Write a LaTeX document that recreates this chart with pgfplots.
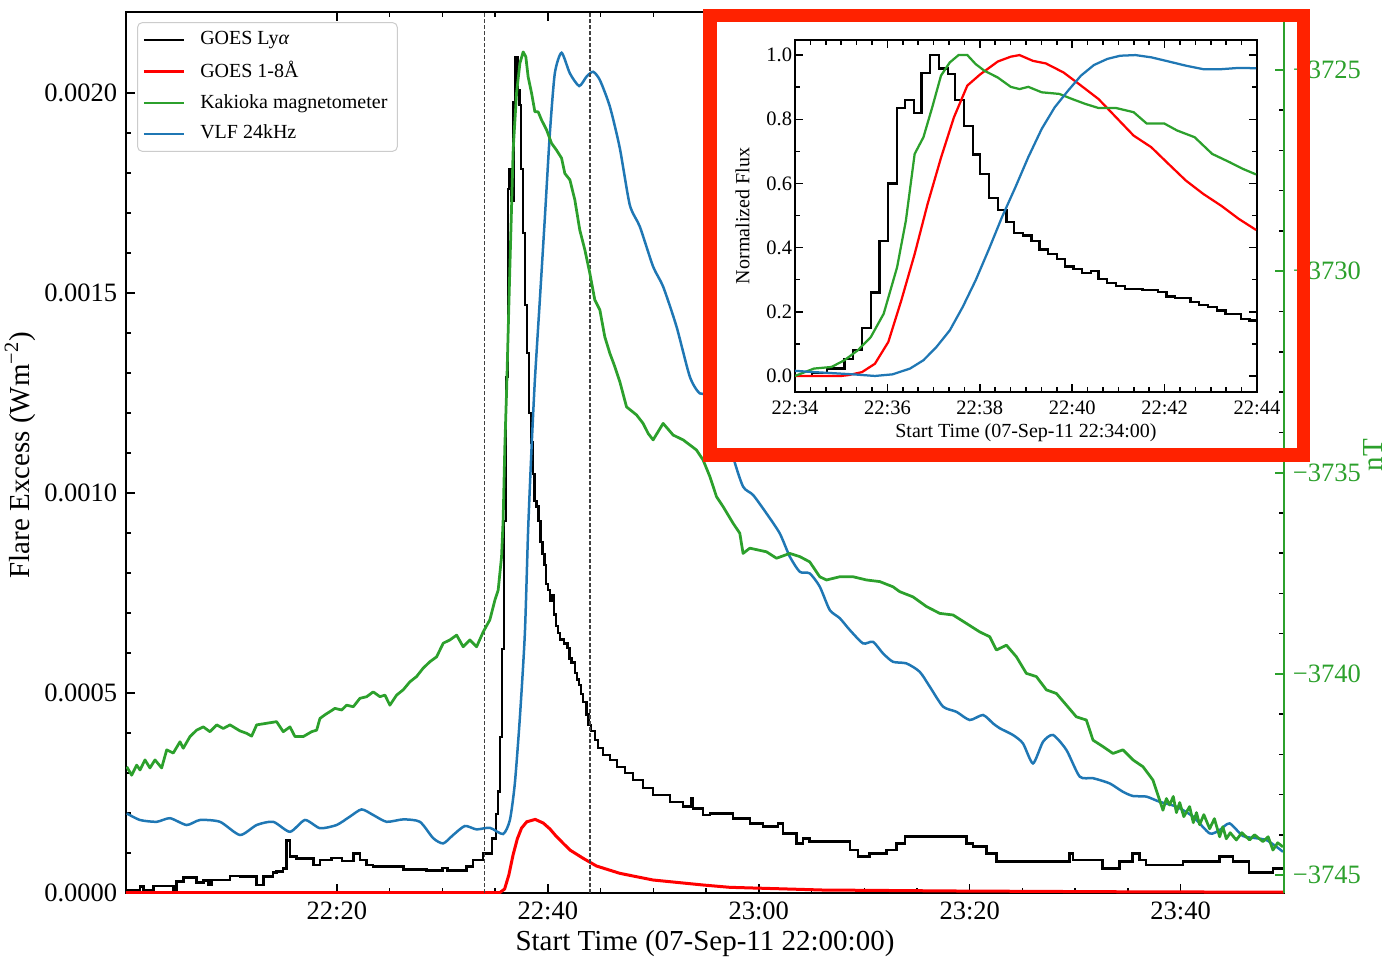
\documentclass[border=0pt]{standalone}
\usepackage{fontspec}
\setmainfont{Liberation Serif}
\usepackage{pgfplots}
\pgfplotsset{compat=1.18}
\definecolor{tabblue}{RGB}{31,119,180}
\definecolor{tabgreen}{RGB}{44,160,44}
\definecolor{framered}{RGB}{255,34,0}
\definecolor{goesred}{RGB}{255,0,0}
\begin{document}
\begin{tikzpicture}
\useasboundingbox (-50.4pt,-26.4pt) rectangle (504.4pt,357.2pt);
% ---------------- main axis (left) ----------------
\begin{axis}[
  at={(0pt,0pt)}, anchor=south west,
  scale only axis, width=463.2pt, height=352.4pt,
  xmin=0, xmax=109.8, ymin=0, ymax=2.2025e-3,
  xtick={20,40,60,80,100}, xticklabels={22:20,22:40,23:00,23:20,23:40},
  minor x tick num=3,
  ytick={0,0.5e-3,1e-3,1.5e-3,2e-3}, yticklabels={0.0000,0.0005,0.0010,0.0015,0.0020},
  minor y tick num=4,
  scaled y ticks=false,
  xtick pos=both, ytick pos=left,
  tick align=inside,
  major tick length=3.6pt, minor tick length=2.2pt,
  every tick/.style={black, line width=0.6pt},
  axis line style={line width=0.8pt},
  tick label style={font=\fontsize{10.6}{12}\selectfont},
  xlabel={Start Time (07-Sep-11 22:00:00)},
  ylabel={Flare Excess (Wm\textsuperscript{−2})},
  xlabel style={font=\fontsize{11.6}{13}\selectfont, at={(axis description cs:0.5,-0.0568)}, anchor=center},
  ylabel style={font=\fontsize{11.6}{13}\selectfont, at={(axis description cs:-0.0915,0.497)}, anchor=center},
  legend style={font=\fontsize{8}{9.5}\selectfont, draw=black!20, rounded corners=2pt,
    at={(axis description cs:0.0095,0.9886)}, anchor=north west,
    inner xsep=2pt, inner ysep=1.5pt, row sep=1.2pt},
  legend cell align=left,
  legend image code/.code={\draw[#1, line width=1pt] (0pt,0pt) -- (16pt,0pt); \path (20.4pt,0pt);},
]
\addlegendimage{black}
\addlegendentry{GOES Ly\textit{α}}
\addlegendimage{goesred}
\addlegendentry{GOES 1-8Å}
\addlegendimage{tabgreen}
\addlegendentry{Kakioka magnetometer}
\addlegendimage{tabblue}
\addlegendentry{VLF 24kHz}
% GOES Lya (step)
\addplot[forget plot, black, line width=1pt, const plot] coordinates {
(0,0.0075e-3)(1.33,0.0158e-3)(1.64,0.0075e-3)(2.59,0.0175e-3)(4.49,0.0075e-3)(4.8,0.0283e-3)(5.43,0.039e-3)(6.7,0.0258e-3)(7.33,0.031e-3)(7.8,0.02e-3)(8.12,0.0325e-3)(9.86,0.0423e-3)(10.8,0.0408e-3)(12.39,0.02e-3)(13.02,0.0408e-3)(13.96,0.0507e-3)(14.28,0.0533e-3)(14.91,0.0617e-3)(15.23,0.131e-3)(15.55,0.0908e-3)(16.18,0.0867e-3)(17.76,0.07e-3)(18.39,0.0825e-3)(19.5,0.087e-3)(20.5,0.08e-3)(21.55,0.0992e-3)(22.18,0.0825e-3)(22.81,0.07e-3)(23.44,0.0658e-3)(26.29,0.059e-3)(28.5,0.0558e-3)(30.0,0.0625e-3)(30.5,0.0558e-3)(32.3,0.0658e-3)(32.9,0.0825e-3)(33.87,0.0992e-3)(34.69,0.136e-3)(35.07,0.198e-3)(35.26,0.254e-3)(35.45,0.39e-3)(35.64,0.61e-3)(35.83,0.93e-3)(36.02,1.29e-3)(36.21,1.76e-3)(36.38,1.81e-3)(36.57,1.73e-3)(36.74,1.976e-3)(36.93,2.09e-3)(37.12,2.006e-3)(37.31,1.97e-3)(37.47,1.81e-3)(37.66,1.65e-3)(37.85,1.47e-3)(38.01,1.35e-3)(38.2,1.2e-3)(38.39,1.126e-3)(38.58,1.048e-3)(38.74,0.98e-3)(38.93,0.966e-3)(39.12,0.93e-3)(39.29,0.878e-3)(39.48,0.848e-3)(39.67,0.82e-3)(39.84,0.772e-3)(40.03,0.758e-3)(40.22,0.73e-3)(40.41,0.744e-3)(40.57,0.696e-3)(40.76,0.668e-3)(40.95,0.65e-3)(41.14,0.634e-3)(41.52,0.624e-3)(41.85,0.612e-3)(42.04,0.586e-3)(42.23,0.576e-3)(42.56,0.55e-3)(42.75,0.534e-3)(42.94,0.52e-3)(43.13,0.498e-3)(43.32,0.478e-3)(43.65,0.446e-3)(43.84,0.42e-3)(44.1,0.405e-3)(44.45,0.3825e-3)(44.74,0.3625e-3)(45.21,0.345e-3)(45.88,0.3325e-3)(46.54,0.315e-3)(47.3,0.3e-3)(48.06,0.2825e-3)(49.0,0.2625e-3)(49.95,0.245e-3)(51.56,0.228e-3)(52.83,0.216e-3)(53.62,0.237e-3)(53.77,0.2117e-3)(54.72,0.195e-3)(55.36,0.199e-3)(57.57,0.1867e-3)(59.15,0.1742e-3)(60.41,0.1658e-3)(61.83,0.1742e-3)(62.31,0.1492e-3)(63.57,0.124e-3)(64.2,0.1367e-3)(64.83,0.1283e-3)(68.63,0.1075e-3)(69.42,0.0908e-3)(70.52,0.0992e-3)(72.1,0.1075e-3)(73.05,0.124e-3)(73.84,0.1408e-3)(79.68,0.124e-3)(80.32,0.1158e-3)(81.58,0.0992e-3)(82.53,0.0783e-3)(89.48,0.0992e-3)(89.8,0.0825e-3)(92.6,0.0617e-3)(94.2,0.0783e-3)(95.45,0.0992e-3)(96.1,0.0825e-3)(96.7,0.07e-3)(100.2,0.0783e-3)(103.7,0.0908e-3)(104.96,0.0783e-3)(106.5,0.0507e-3)(108.75,0.0617e-3)(109.8,0.0617e-3)
};
% GOES 1-8A
\addplot[forget plot, goesred, line width=1.2pt] coordinates {
(0,0.001e-3)(35.45,0.001e-3)(35.9,0.01e-3)(36.3,0.045e-3)(36.7,0.095e-3)(37.1,0.135e-3)(37.5,0.162e-3)(38.0,0.178e-3)(38.8,0.184e-3)(39.56,0.175e-3)(40.2,0.16e-3)(40.82,0.141e-3)(41.5,0.123e-3)(42.09,0.1075e-3)(43.35,0.0867e-3)(44.61,0.0675e-3)(46.82,0.0492e-3)(49.97,0.0325e-3)(54.71,0.02e-3)(57.24,0.0142e-3)(66,0.0075e-3)(78.8,0.005e-3)(95,0.003e-3)(109.8,0.002e-3)
};
% VLF 24kHz
\addplot[forget plot, tabblue, line width=1pt, smooth, tension=0.4] coordinates {
(0.07,0.199e-3)(1.33,0.1825e-3)(2.91,0.178e-3)(4.17,0.187e-3)(5.75,0.17e-3)(7.01,0.1825e-3)(8.91,0.178e-3)(10.81,0.145e-3)(12.39,0.17e-3)(13.96,0.178e-3)(15.55,0.153e-3)(16.97,0.1825e-3)(18.39,0.162e-3)(19.97,0.17e-3)(21.23,0.191e-3)(22.34,0.209e-3)(23.44,0.195e-3)(24.71,0.178e-3)(26.28,0.184e-3)(27.87,0.178e-3)(29.13,0.137e-3)(30.08,0.124e-3)(31.02,0.145e-3)(32.13,0.1675e-3)(33.24,0.159e-3)(34.5,0.163e-3)(35.76,0.1475e-3)(36.4,0.1825e-3)(36.87,0.274e-3)(37.35,0.44e-3)(37.82,0.649e-3)(38.13,0.9075e-3)(38.46,1.116e-3)(38.77,1.2825e-3)(39.24,1.4825e-3)(39.72,1.69e-3)(40.19,1.899e-3)(40.66,2.049e-3)(41.3,2.1005e-3)(42.09,2.049e-3)(42.97,2.0175e-3)(43.67,2.041e-3)(44.29,2.053e-3)(44.93,2.0325e-3)(45.88,1.966e-3)(46.82,1.8625e-3)(47.77,1.72e-3)(48.72,1.666e-3)(49.98,1.566e-3)(50.93,1.516e-3)(52.2,1.416e-3)(53.46,1.291e-3)(54.41,1.249e-3)(55.67,1.249e-3)(56.62,1.199e-3)(57.56,1.091e-3)(58.51,1.016e-3)(59.46,0.995e-3)(60.73,0.949e-3)(61.99,0.899e-3)(62.94,0.841e-3)(63.89,0.803e-3)(64.83,0.799e-3)(65.78,0.766e-3)(66.73,0.7075e-3)(67.68,0.687e-3)(68.63,0.6575e-3)(69.89,0.624e-3)(70.83,0.628e-3)(71.78,0.599e-3)(72.73,0.578e-3)(74.0,0.574e-3)(75.26,0.553e-3)(76.21,0.516e-3)(77.47,0.466e-3)(78.74,0.453e-3)(80.0,0.4325e-3)(81.26,0.445e-3)(82.21,0.424e-3)(82.84,0.412e-3)(84.1,0.395e-3)(85.05,0.374e-3)(86.0,0.324e-3)(86.95,0.378e-3)(87.9,0.395e-3)(89.17,0.3575e-3)(90.43,0.291e-3)(91.69,0.287e-3)(93.27,0.274e-3)(94.53,0.253e-3)(95.48,0.2425e-3)(96.75,0.241e-3)(98.01,0.228e-3)(99.59,0.216e-3)(101.17,0.191e-3)(102.75,0.149e-3)(103.7,0.1575e-3)(104.64,0.174e-3)(105.91,0.1425e-3)(107.17,0.137e-3)(108.12,0.1325e-3)(109.07,0.116e-3)(109.7,0.103e-3)
};
\draw[black!75, line width=0.5pt, dash pattern=on 1.6pt off 0.8pt] (axis cs:34,0) -- (axis cs:34,2.2025e-3);
\draw[black!75, line width=0.5pt, dash pattern=on 1.6pt off 0.8pt] (axis cs:44,0) -- (axis cs:44,2.2025e-3);
\end{axis}
% ---------------- right axis (magnetometer) ----------------
\begin{axis}[
  at={(0pt,0pt)}, anchor=south west,
  scale only axis, width=463.2pt, height=352.4pt,
  xmin=0, xmax=109.8, ymin=-3745.447, ymax=-3723.559,
  axis x line=none, axis y line*=right,
  y axis line style={tabgreen, line width=0.8pt, -},
  ytick={-3745,-3740,-3735,-3730,-3725},
  yticklabels={−3745,−3740,−3735,−3730,−3725},
  minor y tick num=4,
  tick align=inside,
  major tick length=3.6pt, minor tick length=2.2pt,
  major tick style={tabgreen, line width=0.8pt},
  minor tick style={black, line width=0.6pt},
  yticklabel style={tabgreen, font=\fontsize{10.6}{12}\selectfont},
  ylabel={nT},
  ylabel style={tabgreen, font=\fontsize{11.6}{13}\selectfont, at={(axis description cs:1.0765,0.497)}, anchor=center},
]
\addplot[tabgreen, line width=1.1pt, line join=round] coordinates {
(0.07,-3742.31)(0.54,-3742.52)(1.01,-3742.27)(1.33,-3742.39)(1.8,-3742.14)(2.27,-3742.34)(2.75,-3742.14)(3.38,-3742.34)(3.86,-3741.89)(4.48,-3741.97)(5.12,-3741.69)(5.43,-3741.85)(6.07,-3741.56)(6.7,-3741.40)(7.33,-3741.32)(7.96,-3741.44)(8.6,-3741.27)(9.22,-3741.36)(9.86,-3741.27)(10.81,-3741.42)(11.44,-3741.48)(11.91,-3741.55)(12.39,-3741.27)(13.34,-3741.23)(14.28,-3741.19)(14.91,-3741.44)(15.55,-3741.32)(16.02,-3741.56)(16.81,-3741.56)(17.6,-3741.44)(18.08,-3741.40)(18.39,-3741.11)(18.86,-3741.02)(19.34,-3740.94)(19.81,-3740.86)(20.45,-3740.90)(20.92,-3740.78)(21.55,-3740.82)(22.18,-3740.61)(22.82,-3740.57)(23.44,-3740.45)(24.08,-3740.57)(24.55,-3740.53)(25.02,-3740.78)(25.66,-3740.53)(26.28,-3740.40)(26.92,-3740.20)(27.55,-3740.07)(28.18,-3739.86)(28.82,-3739.70)(29.45,-3739.58)(30.08,-3739.24)(30.71,-3739.16)(31.35,-3739.04)(31.97,-3739.33)(32.61,-3739.16)(33.24,-3739.33)(33.87,-3738.96)(34.5,-3738.66)(34.98,-3738.17)(35.29,-3737.92)(35.61,-3737.09)(35.76,-3736.18)(35.92,-3734.36)(36.09,-3732.95)(36.4,-3729.89)(36.71,-3726.99)(37.03,-3725.58)(37.35,-3724.83)(37.66,-3724.55)(37.91,-3724.67)(38.13,-3725.17)(38.46,-3725.58)(38.77,-3726.04)(39.08,-3726.04)(39.4,-3726.24)(39.88,-3726.49)(40.35,-3726.82)(40.82,-3726.99)(41.3,-3727.19)(41.61,-3727.57)(42.09,-3727.73)(42.56,-3728.23)(43.03,-3728.98)(43.51,-3729.47)(43.98,-3730.05)(44.45,-3730.71)(44.93,-3730.96)(45.4,-3731.63)(45.88,-3732.04)(46.35,-3732.37)(46.82,-3732.74)(47.46,-3733.37)(48.41,-3733.57)(49.03,-3733.78)(49.51,-3734.03)(49.98,-3734.19)(50.93,-3733.78)(51.88,-3734.07)(52.83,-3734.19)(54.09,-3734.44)(54.72,-3734.69)(55.36,-3735.10)(55.99,-3735.60)(56.62,-3735.85)(57.56,-3736.26)(58.2,-3736.51)(58.51,-3737.01)(59.15,-3736.88)(60.73,-3736.97)(61.68,-3737.13)(62.94,-3737.01)(63.89,-3737.09)(64.83,-3737.22)(65.78,-3737.59)(66.42,-3737.67)(67.68,-3737.59)(68.94,-3737.59)(70.21,-3737.67)(71.47,-3737.71)(72.73,-3737.84)(73.36,-3737.96)(74.62,-3738.09)(75.9,-3738.33)(77.16,-3738.50)(78.42,-3738.54)(79.69,-3738.75)(80.95,-3738.96)(81.9,-3739.08)(82.53,-3739.41)(83.48,-3739.29)(84.43,-3739.58)(85.37,-3739.99)(86.32,-3740.07)(87.27,-3740.40)(88.22,-3740.49)(89.17,-3740.78)(90.11,-3741.07)(91.06,-3741.15)(91.69,-3741.65)(92.64,-3741.81)(93.58,-3741.98)(94.53,-3741.89)(95.48,-3742.14)(96.43,-3742.31)(97.37,-3742.64)(98.01,-3743.14)(98.32,-3743.39)(98.65,-3743.1)(98.96,-3743.26)(99.3,-3743.05)(99.6,-3743.45)(99.91,-3743.2)(100.3,-3743.55)(100.85,-3743.3)(101.2,-3743.7)(101.5,-3743.45)(101.8,-3743.75)(102.2,-3743.5)(102.75,-3743.85)(103.2,-3743.6)(103.7,-3744.05)(104.0,-3743.8)(104.33,-3744.1)(104.7,-3743.95)(105.28,-3744.13)(105.8,-3743.95)(106.54,-3744.13)(107.0,-3744.0)(107.8,-3744.17)(108.3,-3744.05)(108.75,-3744.38)(109.2,-3744.2)(109.7,-3744.3)
};
\end{axis}
% ---------------- inset frame ----------------
\fill[white] (233.6pt,175.2pt) rectangle (459.4pt,351pt);
\draw[framered, line width=5.4pt] (233.6pt,175.2pt) rectangle (471pt,351pt);
% ---------------- inset axis ----------------
\begin{axis}[
  at={(267.6pt,200.4pt)}, anchor=south west,
  scale only axis, width=184.8pt, height=140.8pt,
  xmin=34, xmax=44, ymin=-0.05, ymax=1.047,
  xtick={34,36,38,40,42,44}, xticklabels={22:34,22:36,22:38,22:40,22:42,22:44},
  minor x tick num=5,
  ytick={0,0.2,0.4,0.6,0.8,1.0}, yticklabels={0.0,0.2,0.4,0.6,0.8,1.0},
  minor y tick num=1,
  xtick pos=both, ytick pos=both, tick align=inside,
  major tick length=3.3pt, minor tick length=2pt,
  every tick/.style={black, line width=0.6pt},
  axis line style={line width=0.8pt},
  axis background/.style={fill=white},
  tick label style={font=\fontsize{8.2}{9}\selectfont},
  yticklabel style={inner xsep=1pt},
  xlabel={Start Time (07-Sep-11 22:34:00)},
  ylabel={Normalized Flux},
  xlabel style={font=\fontsize{8}{9}\selectfont, at={(axis description cs:0.5,-0.1165)}, anchor=center},
  ylabel style={font=\fontsize{8}{9}\selectfont, at={(axis description cs:-0.1136,0.5)}, anchor=center},
]
\addplot[black, line width=0.9pt, const plot] coordinates {
(34,0)(34.36,0.01)(34.69,0.023)(35.07,0.054)(35.26,0.082)(35.45,0.15)(35.64,0.26)(35.83,0.42)(36.02,0.60)(36.21,0.835)(36.38,0.86)(36.57,0.82)(36.74,0.943)(36.93,1.0)(37.12,0.958)(37.31,0.94)(37.47,0.86)(37.66,0.78)(37.85,0.69)(38.01,0.63)(38.2,0.555)(38.39,0.518)(38.58,0.479)(38.74,0.445)(38.93,0.438)(39.12,0.42)(39.29,0.394)(39.48,0.379)(39.67,0.365)(39.84,0.341)(40.03,0.334)(40.22,0.32)(40.41,0.327)(40.57,0.303)(40.76,0.289)(40.95,0.28)(41.14,0.272)(41.52,0.267)(41.85,0.261)(42.04,0.248)(42.23,0.243)(42.56,0.23)(42.75,0.222)(42.94,0.215)(43.13,0.204)(43.32,0.194)(43.65,0.178)(43.84,0.173)(44,0.173)
};
\addplot[goesred, line width=0.9pt] coordinates {
(34,0)(35.0,0)(35.17,0.003)(35.45,0.012)(35.73,0.038)(36.02,0.106)(36.3,0.235)(36.59,0.38)(36.87,0.536)(37.16,0.68)(37.44,0.806)(37.73,0.905)(38.01,0.94)(38.39,0.98)(38.67,0.995)(38.86,1.0)(39.15,0.982)(39.43,0.974)(39.81,0.946)(40.19,0.905)(40.57,0.863)(40.95,0.806)(41.33,0.749)(41.71,0.713)(42.09,0.66)(42.46,0.609)(42.84,0.567)(43.22,0.531)(43.6,0.49)(43.98,0.455)
};
\addplot[tabgreen, line width=0.9pt] coordinates {
(34,0)(34.41,0.023)(34.79,0.028)(35.07,0.049)(35.36,0.08)(35.64,0.121)(35.92,0.194)(36.21,0.339)(36.4,0.484)(36.59,0.692)(36.78,0.744)(36.97,0.837)(37.16,0.936)(37.35,0.977)(37.54,1.0)(37.73,1.0)(37.91,0.972)(38.1,0.951)(38.39,0.93)(38.67,0.901)(38.86,0.894)(39.05,0.901)(39.34,0.884)(39.72,0.879)(40.0,0.863)(40.28,0.848)(40.57,0.835)(40.95,0.835)(41.33,0.822)(41.61,0.787)(41.99,0.787)(42.27,0.765)(42.65,0.744)(43.03,0.692)(43.41,0.666)(43.7,0.645)(43.98,0.628)
};
\addplot[tabblue, line width=0.9pt] coordinates {
(34,0.016)(34.41,0.012)(34.79,0.009)(35.26,0.005)(35.73,0.0)(36.11,0.005)(36.49,0.023)(36.78,0.049)(37.06,0.09)(37.35,0.142)(37.63,0.215)(37.91,0.298)(38.2,0.396)(38.48,0.495)(38.77,0.588)(39.05,0.682)(39.34,0.77)(39.62,0.837)(39.91,0.889)(40.19,0.936)(40.47,0.969)(40.76,0.988)(41.04,0.998)(41.37,1.0)(41.71,0.993)(42.09,0.98)(42.46,0.967)(42.84,0.956)(43.22,0.956)(43.6,0.96)(43.98,0.959)
};
\end{axis}
\end{tikzpicture}
\end{document}
